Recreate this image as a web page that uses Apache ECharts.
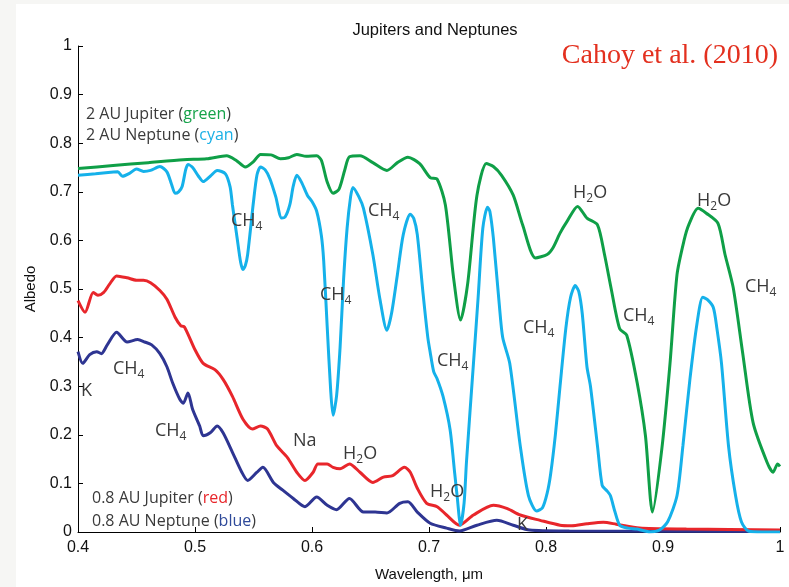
<!DOCTYPE html>
<html>
<head>
<meta charset="utf-8">
<script src="https://cdn.jsdelivr.net/npm/echarts@6/dist/echarts.min.js"></script>
<style>
html,body{margin:0;padding:0;background:#f6f6f4;}
#chart{width:789px;height:587px;}
</style>
</head>
<body>
<div id="chart"></div>
<script>
// ---- Data (wavelength in micron, albedo) ----
var greenWl = [0.400,0.430,0.460,0.490,0.510,0.527,0.535,0.543,0.550,0.556,0.565,0.573,0.580,0.587,0.595,0.604,0.608,0.613,0.618,0.623,0.628,0.632,0.641,0.652,0.664,0.673,0.682,0.692,0.701,0.707,0.714,0.721,0.727,0.733,0.741,0.749,0.755,0.762,0.772,0.780,0.791,0.801,0.806,0.812,0.818,0.827,0.835,0.844,0.850,0.856,0.863,0.869,0.878,0.885,0.891,0.899,0.906,0.912,0.918,0.922,0.930,0.937,0.947,0.953,0.960,0.968,0.977,0.989,0.994,0.998,1.000];
var greenAlb = [0.748,0.754,0.760,0.766,0.768,0.774,0.765,0.751,0.762,0.777,0.776,0.768,0.770,0.777,0.773,0.774,0.765,0.720,0.697,0.705,0.745,0.772,0.774,0.760,0.744,0.760,0.771,0.758,0.729,0.726,0.673,0.523,0.436,0.510,0.693,0.758,0.752,0.734,0.693,0.632,0.564,0.571,0.585,0.615,0.639,0.670,0.646,0.632,0.571,0.497,0.418,0.405,0.306,0.198,0.041,0.171,0.347,0.530,0.600,0.632,0.666,0.656,0.635,0.571,0.503,0.370,0.225,0.143,0.123,0.140,0.135];

var cyanWl = [0.400,0.415,0.428,0.434,0.438,0.444,0.450,0.456,0.462,0.470,0.476,0.480,0.483,0.486,0.489,0.492,0.494,0.498,0.503,0.507,0.513,0.519,0.526,0.530,0.532,0.536,0.539,0.541,0.543,0.545,0.550,0.553,0.556,0.560,0.564,0.569,0.574,0.577,0.581,0.584,0.587,0.591,0.596,0.600,0.604,0.608,0.610,0.613,0.616,0.618,0.621,0.624,0.627,0.630,0.633,0.635,0.640,0.644,0.652,0.658,0.664,0.668,0.673,0.678,0.684,0.687,0.690,0.695,0.699,0.701,0.704,0.707,0.712,0.718,0.722,0.724,0.727,0.730,0.732,0.738,0.742,0.746,0.750,0.752,0.755,0.760,0.763,0.769,0.778,0.785,0.792,0.797,0.801,0.804,0.808,0.812,0.817,0.821,0.825,0.828,0.831,0.835,0.838,0.844,0.848,0.852,0.855,0.859,0.863,0.870,0.878,0.889,0.897,0.904,0.912,0.917,0.923,0.929,0.934,0.938,0.943,0.946,0.950,0.956,0.962,0.967,0.973,0.985,1.000];
var cyanAlb = [0.734,0.737,0.740,0.741,0.732,0.738,0.747,0.742,0.744,0.752,0.741,0.715,0.697,0.700,0.711,0.745,0.756,0.750,0.732,0.721,0.732,0.744,0.737,0.710,0.673,0.605,0.555,0.540,0.548,0.571,0.680,0.735,0.751,0.745,0.727,0.690,0.646,0.648,0.673,0.712,0.734,0.720,0.693,0.680,0.660,0.610,0.558,0.422,0.290,0.240,0.280,0.380,0.520,0.625,0.690,0.709,0.690,0.666,0.571,0.480,0.415,0.450,0.530,0.612,0.654,0.645,0.612,0.489,0.400,0.370,0.330,0.315,0.279,0.211,0.120,0.075,0.014,0.060,0.143,0.347,0.483,0.625,0.668,0.660,0.605,0.470,0.400,0.347,0.177,0.075,0.043,0.050,0.080,0.120,0.200,0.300,0.420,0.483,0.507,0.495,0.449,0.340,0.300,0.177,0.096,0.085,0.075,0.041,0.014,0.008,0.006,0.000,0.004,0.021,0.075,0.177,0.314,0.428,0.483,0.478,0.462,0.420,0.347,0.177,0.075,0.021,0.002,0.000,0.000];

var redWl = [0.400,0.406,0.413,0.417,0.422,0.427,0.433,0.442,0.450,0.456,0.462,0.470,0.476,0.483,0.488,0.491,0.500,0.507,0.517,0.524,0.532,0.541,0.549,0.556,0.562,0.570,0.579,0.587,0.594,0.601,0.605,0.613,0.618,0.624,0.632,0.641,0.652,0.661,0.669,0.679,0.684,0.690,0.698,0.707,0.715,0.726,0.738,0.755,0.767,0.778,0.795,0.812,0.822,0.835,0.849,0.860,0.880,0.920,1.000];
var redAlb = [0.476,0.452,0.493,0.487,0.493,0.510,0.527,0.523,0.518,0.518,0.513,0.497,0.479,0.442,0.424,0.422,0.375,0.347,0.334,0.314,0.279,0.232,0.212,0.218,0.212,0.177,0.153,0.123,0.106,0.123,0.140,0.140,0.133,0.130,0.140,0.123,0.102,0.113,0.116,0.133,0.123,0.090,0.059,0.052,0.035,0.014,0.035,0.055,0.048,0.035,0.024,0.014,0.013,0.017,0.020,0.016,0.008,0.006,0.004];

var blueWl = [0.400,0.404,0.410,0.416,0.420,0.425,0.433,0.442,0.451,0.457,0.463,0.470,0.476,0.481,0.487,0.490,0.494,0.498,0.504,0.507,0.513,0.519,0.524,0.532,0.540,0.545,0.553,0.558,0.567,0.575,0.584,0.594,0.604,0.613,0.621,0.632,0.644,0.654,0.664,0.675,0.682,0.690,0.701,0.715,0.726,0.741,0.758,0.772,0.786,0.820,1.000];
var blueAlb = [0.371,0.347,0.365,0.371,0.367,0.385,0.411,0.391,0.396,0.391,0.385,0.367,0.340,0.306,0.273,0.265,0.286,0.252,0.218,0.198,0.204,0.218,0.204,0.164,0.123,0.106,0.123,0.133,0.102,0.086,0.069,0.052,0.072,0.055,0.046,0.069,0.041,0.041,0.039,0.059,0.062,0.041,0.018,0.008,0.002,0.014,0.024,0.014,0.004,0.002,0.001];

var xTicks = [0.4,0.5,0.6,0.7,0.8,0.9,1.0];
var yTicks = [0,0.1,0.2,0.3,0.4,0.5,0.6,0.7,0.8,0.9,1.0];

function pairs(xs, ys){ return xs.map(function(x,i){ return [x, ys[i]]; }); }

var txtColor = '#3a3a3a';
var lblFont = 'Open Sans';
var rich = {
  a: {fontFamily: lblFont, fontSize: 18, fill: txtColor, lineHeight: 24},
  s: {fontFamily: lblFont, fontSize: 12, fill: txtColor, lineHeight: 14, verticalAlign: 'bottom'},
  l: {fontFamily: lblFont, fontSize: 16, fill: txtColor, lineHeight: 20},
  g: {fontFamily: lblFont, fontSize: 16, fill: '#16a34a', lineHeight: 20},
  c: {fontFamily: lblFont, fontSize: 16, fill: '#1ab0e6', lineHeight: 20},
  r: {fontFamily: lblFont, fontSize: 16, fill: '#e8262b', lineHeight: 20},
  b: {fontFamily: lblFont, fontSize: 16, fill: '#2f4a9a', lineHeight: 20}
};
function lab(x, y, text){
  return {type:'text', x:x, y:y, z:10, style:{text:text, rich:rich, fill: txtColor, verticalAlign:'middle', align:'left'}};
}
var CH4 = '{a|CH}{s|4}', H2O = '{a|H}{s|2}{a|O}';

var chart = echarts.init(document.getElementById('chart'));
chart.setOption({
  backgroundColor: '#f6f6f4',
  animation: false,
  grid: {left: 78, right: 9, top: 46, bottom: 50},
  xAxis: {
    type: 'value', min: 0.4, max: 1, interval: 0.1,
    name: 'Wavelength, \u03bcm', nameLocation: 'middle', nameGap: 35,
    nameTextStyle: {fontFamily: 'Liberation Sans', fontSize: 15, color: '#111'},
    axisLine: {lineStyle: {color: '#000', width: 1}},
    axisTick: {inside: true, length: 5, lineStyle: {color: '#000'}},
    axisLabel: {fontFamily: 'Liberation Sans', fontSize: 16, color: '#111', margin: 8,
      formatter: function(v){ return String(Math.round(v*10)/10); }},
    splitLine: {show: false}
  },
  yAxis: {
    type: 'value', min: 0, max: 1, interval: 0.1,
    name: 'Albedo', nameLocation: 'middle', nameGap: 39, nameRotate: 90,
    nameTextStyle: {fontFamily: 'Liberation Sans', fontSize: 15, color: '#111'},
    axisLine: {show: true, lineStyle: {color: '#000', width: 1}},
    axisTick: {show: true, inside: true, length: 5, lineStyle: {color: '#000'}},
    axisLabel: {fontFamily: 'Liberation Sans', fontSize: 16, color: '#111', margin: 6,
      formatter: function(v){ return String(Math.round(v*10)/10); }},
    splitLine: {show: false}
  },
  title: {
    text: 'Jupiters and Neptunes', left: 430, top: 17, textAlign: 'center',
    textStyle: {fontFamily: 'Liberation Sans', fontSize: 16.5, fontWeight: 'normal', color: '#111'}
  },
  graphic: [
    {type:'rect', z:-10, shape:{x:16, y:4, width:773, height:583}, style:{fill:'#ffffff'}},
    {type:'text', z:10, x:778, y:56, style:{text:'Cahoy et al. (2010)', fontFamily:'Liberation Serif', fontSize:28, fill:'#e3301f', align:'right', verticalAlign:'middle'}},
    lab(86, 114, '{l|2 AU Jupiter (}{g|green}{l|)}'),
    lab(86, 135, '{l|2 AU Neptune (}{c|cyan}{l|)}'),
    lab(92, 498, '{l|0.8 AU Jupiter (}{r|red}{l|)}'),
    lab(92, 521, '{l|0.8 AU Neptune (}{b|blue}{l|)}'),
    lab(231, 221, CH4),
    lab(368, 211, CH4),
    lab(320, 295, CH4),
    lab(437, 361, CH4),
    lab(523, 328, CH4),
    lab(573, 193, H2O),
    lab(623, 316, CH4),
    lab(697, 201, H2O),
    lab(745, 287, CH4),
    lab(113, 369, CH4),
    lab(81, 391, '{a|K}'),
    lab(155, 431, CH4),
    lab(293, 441, '{a|Na}'),
    lab(343, 454, H2O),
    lab(430, 492, H2O),
    lab(517, 525, '{a|K}')
  ],
  series: [
    {name:'0.8 AU Neptune', type:'line', data: pairs(blueWl, blueAlb), showSymbol:false, smooth:0.25,
      lineStyle:{color:'#2e3592', width:3}, z:2},
    {name:'0.8 AU Jupiter', type:'line', data: pairs(redWl, redAlb), showSymbol:false, smooth:0.25,
      lineStyle:{color:'#e8262b', width:3}, z:3},
    {name:'2 AU Jupiter', type:'line', data: pairs(greenWl, greenAlb), showSymbol:false, smooth:0.25,
      lineStyle:{color:'#0f9f47', width:3}, z:4},
    {name:'2 AU Neptune', type:'line', data: pairs(cyanWl, cyanAlb), showSymbol:false, smooth:0.25,
      lineStyle:{color:'#15b1ea', width:3}, z:5}
  ]
});
</script>
</body>
</html>
